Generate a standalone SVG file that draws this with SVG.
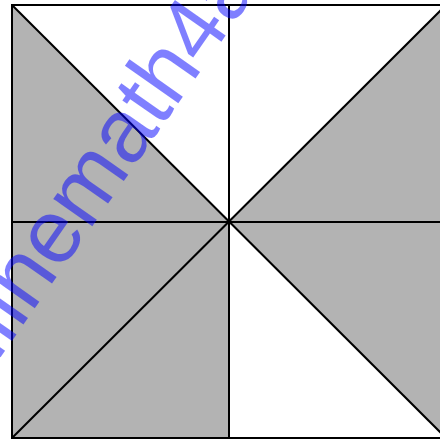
<svg xmlns="http://www.w3.org/2000/svg" width="440" height="441" viewBox="0 0 440 441">
<style>
.sh{fill:#b3b3b3;stroke:none}
.ln{stroke:#000;stroke-width:2;fill:none}
.wm{font-family:"Liberation Sans",Arial,sans-serif;font-size:90px;fill:#0000ff;fill-opacity:0.5}
</style>
<rect width="440" height="441" fill="#fff"/>
<g id="shading">
<polygon class="sh" points="12,5 12,222 229,222"/>
<polygon class="sh" points="229,222 446,5 446,222"/>
<polygon class="sh" points="12,222 229,222 229,438 12,438"/>
<polygon class="sh" points="229,222 446,222 446,438"/>
</g>
<g id="lines">
<rect class="ln" x="12" y="5" width="434" height="433"/>
<line class="ln" x1="229" y1="5" x2="229" y2="438"/>
<line class="ln" x1="12" y1="222" x2="446" y2="222"/>
<line class="ln" x1="12" y1="5" x2="446" y2="438"/>
<line class="ln" x1="12" y1="438" x2="446" y2="5"/>
</g>
<text class="wm" transform="translate(-49,428) rotate(-55)">onlinemath4all.com</text>
</svg>
